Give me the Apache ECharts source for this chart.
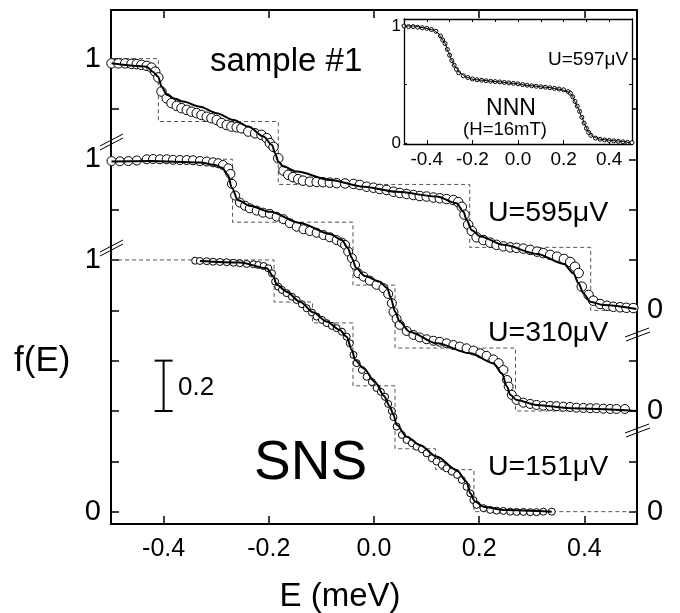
<!DOCTYPE html>
<html><head><meta charset="utf-8">
<script src="https://cdn.jsdelivr.net/npm/echarts@6/dist/echarts.min.js"></script>
<style>html,body{margin:0;padding:0;background:#fff}#c{width:680px;height:613px}</style>
</head><body><div id="c"></div>
<script>
// ---- data (E in meV, f(E) per curve) ----
const curveOffsets = {u595: 0.8, u310: 0.4, u151: 0};

const u595Points = [[-0.499,0.981],[-0.486,0.981],[-0.473,0.981],[-0.461,0.979],[-0.451,0.978],[-0.442,0.975],[-0.432,0.971],[-0.423,0.964],[-0.416,0.948],[-0.410,0.925],[-0.404,0.869],[-0.394,0.842],[-0.385,0.823],[-0.375,0.812],[-0.366,0.803],[-0.356,0.796],[-0.347,0.789],[-0.337,0.783],[-0.328,0.776],[-0.318,0.769],[-0.309,0.763],[-0.299,0.756],[-0.290,0.744],[-0.280,0.736],[-0.271,0.730],[-0.261,0.727],[-0.252,0.723],[-0.239,0.710],[-0.226,0.703],[-0.214,0.697],[-0.204,0.684],[-0.198,0.664],[-0.191,0.649],[-0.182,0.604],[-0.172,0.555],[-0.163,0.538],[-0.154,0.529],[-0.144,0.521],[-0.135,0.515],[-0.122,0.511],[-0.109,0.510],[-0.097,0.509],[-0.084,0.507],[-0.071,0.505],[-0.055,0.504],[-0.039,0.502],[-0.027,0.498],[-0.014,0.491],[-0.001,0.487],[0.011,0.482],[0.024,0.478],[0.037,0.471],[0.049,0.466],[0.062,0.462],[0.075,0.458],[0.087,0.454],[0.100,0.452],[0.113,0.448],[0.125,0.445],[0.138,0.442],[0.151,0.438],[0.160,0.430],[0.167,0.411],[0.172,0.380],[0.179,0.340],[0.186,0.315],[0.195,0.290],[0.208,0.279],[0.221,0.269],[0.233,0.260],[0.246,0.254],[0.259,0.250],[0.271,0.248],[0.284,0.245],[0.297,0.240],[0.310,0.233],[0.322,0.227],[0.335,0.220],[0.348,0.213],[0.361,0.204],[0.373,0.192],[0.382,0.173],[0.389,0.148],[0.395,0.094],[0.408,0.061],[0.417,0.038],[0.430,0.025],[0.443,0.018],[0.455,0.014],[0.468,0.012],[0.480,0.010],[0.493,0.009]];
const u595Fit = [[-0.499,0.981],[-0.432,0.968],[-0.420,0.947],[-0.410,0.927],[-0.404,0.889],[-0.394,0.856],[-0.378,0.840],[-0.363,0.829],[-0.331,0.809],[-0.299,0.783],[-0.267,0.756],[-0.239,0.730],[-0.210,0.690],[-0.194,0.657],[-0.188,0.624],[-0.182,0.591],[-0.172,0.571],[-0.147,0.551],[-0.084,0.518],[-0.020,0.491],[0.043,0.471],[0.119,0.452],[0.157,0.425],[0.170,0.392],[0.176,0.359],[0.186,0.318],[0.202,0.293],[0.246,0.260],[0.310,0.224],[0.361,0.184],[0.379,0.147],[0.389,0.107],[0.398,0.068],[0.411,0.034],[0.436,0.021],[0.499,0.005]];
const u595Steps = [[-0.5,1],[-0.41,1],[-0.41,0.75],[-0.182,0.75],[-0.182,0.5],[0.182,0.5],[0.182,0.25],[0.412,0.25],[0.412,0],[0.5,0]];

const u310Points = [[-0.499,0.993],[-0.483,0.992],[-0.467,0.993],[-0.451,0.995],[-0.432,1.000],[-0.420,1.001],[-0.407,1.000],[-0.394,1.000],[-0.382,0.998],[-0.369,0.997],[-0.356,0.997],[-0.344,0.996],[-0.331,0.993],[-0.318,0.991],[-0.306,0.988],[-0.296,0.984],[-0.287,0.977],[-0.277,0.964],[-0.273,0.942],[-0.270,0.902],[-0.264,0.856],[-0.255,0.828],[-0.245,0.815],[-0.236,0.805],[-0.223,0.796],[-0.211,0.788],[-0.198,0.783],[-0.185,0.772],[-0.172,0.762],[-0.160,0.746],[-0.147,0.732],[-0.134,0.722],[-0.122,0.715],[-0.109,0.708],[-0.096,0.699],[-0.084,0.690],[-0.071,0.679],[-0.061,0.669],[-0.055,0.660],[-0.049,0.633],[-0.042,0.607],[-0.036,0.580],[-0.030,0.547],[-0.020,0.534],[-0.008,0.518],[0.005,0.501],[0.018,0.488],[0.027,0.465],[0.034,0.428],[0.037,0.393],[0.043,0.366],[0.049,0.342],[0.062,0.318],[0.075,0.302],[0.087,0.292],[0.100,0.285],[0.113,0.279],[0.125,0.275],[0.138,0.269],[0.151,0.262],[0.163,0.256],[0.176,0.249],[0.189,0.240],[0.202,0.229],[0.214,0.219],[0.227,0.205],[0.237,0.190],[0.246,0.163],[0.253,0.123],[0.256,0.097],[0.262,0.064],[0.271,0.044],[0.284,0.033],[0.297,0.028],[0.309,0.024],[0.322,0.021],[0.335,0.020],[0.347,0.019],[0.360,0.017],[0.373,0.016],[0.385,0.013],[0.398,0.012],[0.411,0.011],[0.423,0.011],[0.436,0.009],[0.449,0.008],[0.461,0.008],[0.477,0.008]];
const u310Fit = [[-0.499,0.991],[-0.426,0.993],[-0.331,0.987],[-0.302,0.977],[-0.289,0.966],[-0.278,0.938],[-0.270,0.886],[-0.259,0.838],[-0.236,0.815],[-0.198,0.791],[-0.141,0.747],[-0.084,0.703],[-0.061,0.679],[-0.050,0.648],[-0.042,0.608],[-0.034,0.568],[-0.017,0.536],[0.011,0.513],[0.025,0.489],[0.032,0.449],[0.040,0.394],[0.049,0.354],[0.068,0.314],[0.119,0.269],[0.183,0.229],[0.227,0.190],[0.243,0.150],[0.253,0.097],[0.259,0.064],[0.271,0.044],[0.309,0.024],[0.373,0.011],[0.499,0.000]];
const u310Steps = [[-0.5,1],[-0.269,1],[-0.269,0.75],[-0.04,0.75],[-0.04,0.5],[0.04,0.5],[0.04,0.25],[0.269,0.25],[0.269,0],[0.5,0]];

const u151Points = [[-0.340,0.997],[-0.331,0.996],[-0.318,0.995],[-0.306,0.993],[-0.293,0.992],[-0.280,0.991],[-0.267,0.989],[-0.255,0.987],[-0.242,0.984],[-0.229,0.983],[-0.220,0.980],[-0.210,0.976],[-0.201,0.967],[-0.194,0.947],[-0.188,0.914],[-0.182,0.894],[-0.175,0.881],[-0.166,0.868],[-0.156,0.854],[-0.147,0.841],[-0.137,0.824],[-0.128,0.808],[-0.118,0.791],[-0.109,0.775],[-0.099,0.762],[-0.090,0.749],[-0.080,0.738],[-0.071,0.729],[-0.061,0.715],[-0.052,0.695],[-0.046,0.669],[-0.039,0.623],[-0.033,0.590],[-0.023,0.563],[-0.014,0.536],[-0.004,0.515],[0.005,0.491],[0.013,0.476],[0.021,0.456],[0.027,0.428],[0.034,0.400],[0.037,0.376],[0.043,0.338],[0.053,0.305],[0.062,0.285],[0.072,0.272],[0.081,0.258],[0.091,0.248],[0.100,0.232],[0.110,0.212],[0.119,0.199],[0.129,0.186],[0.138,0.172],[0.148,0.159],[0.158,0.146],[0.167,0.126],[0.176,0.099],[0.183,0.073],[0.189,0.046],[0.195,0.027],[0.208,0.014],[0.221,0.007],[0.233,0.004],[0.246,0.003],[0.259,0.000],[0.271,-0.001],[0.284,-0.001],[0.297,-0.002],[0.309,-0.002],[0.322,0.000],[0.338,0.000]];
const u151Fit = [[-0.331,0.996],[-0.255,0.990],[-0.204,0.967],[-0.191,0.934],[-0.185,0.901],[-0.166,0.874],[-0.141,0.834],[-0.115,0.791],[-0.090,0.755],[-0.065,0.722],[-0.052,0.695],[-0.042,0.642],[-0.036,0.603],[-0.020,0.570],[0.002,0.515],[0.019,0.460],[0.030,0.418],[0.037,0.385],[0.043,0.345],[0.062,0.298],[0.087,0.265],[0.119,0.219],[0.157,0.166],[0.176,0.119],[0.183,0.073],[0.192,0.040],[0.208,0.020],[0.246,0.007],[0.338,0.000]];
const u151Steps = [[-0.5,1],[-0.19,1],[-0.19,0.833],[-0.117,0.833],[-0.117,0.75],[-0.04,0.75],[-0.04,0.5],[0.04,0.5],[0.04,0.25],[0.117,0.25],[0.117,0.167],[0.19,0.167],[0.19,0],[0.5,0]];

const nnnPoints = [[-0.50,1.00],[-0.48,0.995],[-0.46,0.995],[-0.44,0.99],[-0.42,0.985],[-0.40,0.98],[-0.38,0.97],[-0.36,0.955],[-0.34,0.915],[-0.33,0.88],[-0.32,0.85],[-0.31,0.80],[-0.30,0.75],[-0.29,0.705],[-0.28,0.665],[-0.27,0.63],[-0.26,0.60],[-0.24,0.575],[-0.22,0.56],[-0.20,0.548],[-0.18,0.541],[-0.16,0.537],[-0.14,0.532],[-0.12,0.528],[-0.10,0.525],[-0.08,0.522],[-0.06,0.518],[-0.04,0.514],[-0.02,0.510],[0.00,0.506],[0.02,0.500],[0.04,0.494],[0.06,0.489],[0.08,0.485],[0.10,0.481],[0.12,0.477],[0.14,0.472],[0.16,0.467],[0.18,0.461],[0.20,0.455],[0.22,0.44],[0.23,0.425],[0.24,0.395],[0.25,0.355],[0.26,0.315],[0.27,0.27],[0.28,0.22],[0.29,0.17],[0.30,0.125],[0.31,0.09],[0.32,0.065],[0.34,0.042],[0.36,0.032],[0.38,0.026],[0.40,0.022],[0.42,0.019],[0.44,0.015],[0.46,0.01],[0.48,0.006],[0.50,0.003]];
const nnnFit = [[-0.5,1.0],[-0.459,1.0],[-0.415,0.985],[-0.371,0.966],[-0.350,0.938],[-0.335,0.895],[-0.320,0.852],[-0.306,0.780],[-0.291,0.709],[-0.276,0.652],[-0.254,0.598],[-0.225,0.562],[-0.196,0.544],[-0.167,0.538],[-0.093,0.524],[-0.021,0.510],[0.053,0.490],[0.126,0.476],[0.184,0.459],[0.221,0.438],[0.236,0.410],[0.250,0.353],[0.264,0.297],[0.279,0.225],[0.294,0.154],[0.308,0.097],[0.330,0.054],[0.360,0.032],[0.418,0.020],[0.491,0.003]];

const scaleBar = [-0.4, 0.4, 0.6];           // E, lower, upper (span 0.2)
const mainXTicks = [-0.4, -0.2, 0, 0.2, 0.4];
const mainYTicks = [0, 0.2, 0.4, 0.6, 0.8, 1.0, 1.2, 1.4, 1.6, 1.8];
const leftYLabels = [0, 1.0, 1.4, 1.8];       // shown as 0,1,1,1
const rightYLabels = [0, 0.4, 0.8];           // shown as 0
const insetXTicks = [-0.4, -0.2, 0, 0.2, 0.4];
const insetTopTicks = [-0.4, -0.3, -0.2, -0.1, 0, 0.1, 0.2, 0.3, 0.4];
const insetYLabels = [0, 1];

// ---- chart ----
const FONT = 'Liberation Sans, Arial, Helvetica, sans-serif';
const shift = (arr, off) => arr.map(p => [p[0], p[1] + off]);
const chart = echarts.init(document.getElementById('c'), null, {renderer: 'canvas'});

const axisBase = (extra) => Object.assign({
  type: 'value', splitLine: {show: false},
  axisLine: {show: true, onZero: false, lineStyle: {color: '#000', width: 2}},
}, extra);

function curveSeries(points, fit, steps, off, size) {
  return [
    {type: 'line', data: shift(steps, off), symbol: 'none', silent: true, z: 1,
     lineStyle: {color: '#555', width: 1, type: [4, 3]}},
    {type: 'scatter', data: shift(points, off), symbol: 'circle', symbolSize: size, silent: true, z: 2,
     itemStyle: {color: '#fff', borderColor: '#000', borderWidth: 1, opacity: 1}},
    {type: 'line', data: shift(fit, off), symbol: 'none', smooth: 0.3, smoothMonotone: 'x', silent: true, z: 3,
     lineStyle: {color: '#000', width: 2}}
  ];
}

const series = [].concat(
  curveSeries(u595Points, u595Fit, u595Steps, curveOffsets.u595, 9.5),
  curveSeries(u310Points, u310Fit, u310Steps, curveOffsets.u310, 9),
  curveSeries(u151Points, u151Fit, u151Steps, curveOffsets.u151, 7),
  [
    {type: 'custom', xAxisIndex: 0, yAxisIndex: 0, data: [scaleBar], silent: true, z: 4,
     encode: {x: 0, y: [1, 2]},
     renderItem: function (params, api) {
       const a = api.coord([api.value(0), api.value(1)]);
       const b = api.coord([api.value(0), api.value(2)]);
       const st = {stroke: '#000', lineWidth: 2};
       return {type: 'group', children: [
         {type: 'line', shape: {x1: a[0], y1: a[1], x2: b[0], y2: b[1]}, style: st},
         {type: 'line', shape: {x1: a[0] - 9, y1: a[1], x2: a[0] + 9, y2: a[1]}, style: st},
         {type: 'line', shape: {x1: b[0] - 9, y1: b[1], x2: b[0] + 9, y2: b[1]}, style: st}
       ]};
     }},
    {type: 'scatter', xAxisIndex: 2, yAxisIndex: 2, data: nnnPoints, symbol: 'circle', symbolSize: 4, silent: true, z: 6,
     itemStyle: {color: '#fff', borderColor: '#000', borderWidth: 1, opacity: 1}},
    {type: 'line', xAxisIndex: 2, yAxisIndex: 2, data: nnnFit, symbol: 'none', smooth: 0.3, smoothMonotone: 'x', silent: true, z: 7,
     lineStyle: {color: '#000', width: 1}}
  ]
);

const option = {
  animation: false,
  backgroundColor: '#fff',
  textStyle: {fontFamily: FONT, color: '#000'},
  grid: [
    {left: 111, top: 10, width: 526, height: 514, show: false},
    {left: 404, top: 19, width: 228, height: 125, show: true, backgroundColor: '#fff', borderWidth: 0, z: 5}
  ],
  xAxis: [
    axisBase({gridIndex: 0, position: 'bottom', min: -0.5, max: 0.5,
      axisTick: {show: true, inside: true, length: 8, lineStyle: {color: '#000', width: 1.5}, customValues: mainXTicks},
      axisLabel: {show: true, customValues: mainXTicks, fontSize: 25, margin: 13, color: '#000', fontFamily: FONT,
        formatter: v => (Math.abs(v) < 1e-9 ? '0.0' : Number(v).toFixed(1))}}),
    axisBase({gridIndex: 0, position: 'top', min: -0.5, max: 0.5,
      axisTick: {show: true, inside: true, length: 8, lineStyle: {color: '#000', width: 1.5}, customValues: mainXTicks},
      axisLabel: {show: false}}),
    axisBase({gridIndex: 1, position: 'bottom', min: -0.5, max: 0.5, z: 6,
      axisLine: {show: true, onZero: false, lineStyle: {color: '#000', width: 1.3}},
      axisTick: {show: true, inside: true, length: 4, lineStyle: {color: '#000', width: 1}, customValues: insetXTicks},
      axisLabel: {show: true, customValues: insetXTicks, fontSize: 19, margin: 6, color: '#000', fontFamily: FONT,
        formatter: v => (Math.abs(v) < 1e-9 ? '0.0' : Number(v).toFixed(1))}}),
    axisBase({gridIndex: 1, position: 'top', min: -0.5, max: 0.5, z: 6,
      axisLine: {show: true, onZero: false, lineStyle: {color: '#000', width: 1.3}},
      axisTick: {show: true, inside: true, length: 3, lineStyle: {color: '#000', width: 1}, customValues: insetTopTicks},
      axisLabel: {show: false}})
  ],
  yAxis: [
    axisBase({gridIndex: 0, position: 'left', min: -0.049, max: 1.993,
      axisTick: {show: true, inside: true, length: 8, lineStyle: {color: '#000', width: 1.5}, customValues: mainYTicks},
      axisLabel: {show: true, customValues: leftYLabels, fontSize: 29, margin: 10, color: '#000', fontFamily: FONT,
        formatter: v => (v < 0.5 ? '0' : '1')}}),
    axisBase({gridIndex: 0, position: 'right', min: -0.049, max: 1.993,
      axisTick: {show: true, inside: true, length: 8, lineStyle: {color: '#000', width: 1.5}, customValues: mainYTicks},
      axisLabel: {show: true, customValues: rightYLabels, fontSize: 29, margin: 10, color: '#000', fontFamily: FONT,
        formatter: () => '0'}}),
    axisBase({gridIndex: 1, position: 'left', min: -0.0085, max: 1.06, z: 6,
      axisLine: {show: true, onZero: false, lineStyle: {color: '#000', width: 1.3}},
      axisTick: {show: true, inside: true, length: 3, lineStyle: {color: '#000', width: 1}, customValues: [0, 0.5, 1]},
      axisLabel: {show: true, customValues: insetYLabels, fontSize: 17, margin: 3, color: '#000', fontFamily: FONT,
        formatter: v => String(Math.round(v))}}),
    axisBase({gridIndex: 1, position: 'right', min: -0.0085, max: 1.06, z: 6,
      axisLine: {show: true, onZero: false, lineStyle: {color: '#000', width: 1.3}},
      axisTick: {show: true, inside: true, length: 3, lineStyle: {color: '#000', width: 1}, customValues: [0.5]},
      axisLabel: {show: false}})
  ],
  series: series,
  graphic: [
    {type: 'text', x: 210, y: 62, style: {text: 'sample #1', font: '33px ' + FONT, fill: '#000', textVerticalAlign: 'middle'}},
    {type: 'text', x: 488, y: 213, style: {text: 'U=595μV', font: '28.5px ' + FONT, fill: '#000', textVerticalAlign: 'middle'}},
    {type: 'text', x: 488, y: 333, style: {text: 'U=310μV', font: '28.5px ' + FONT, fill: '#000', textVerticalAlign: 'middle'}},
    {type: 'text', x: 488, y: 467, style: {text: 'U=151μV', font: '28.5px ' + FONT, fill: '#000', textVerticalAlign: 'middle'}},
    {type: 'text', x: 254, y: 464, style: {text: 'SNS', font: '55px ' + FONT, fill: '#000', textVerticalAlign: 'middle'}},
    {type: 'text', x: 178, y: 388, style: {text: '0.2', font: '26px ' + FONT, fill: '#000', textVerticalAlign: 'middle'}},
    {type: 'text', x: 14, y: 361, style: {text: 'f(E)', font: '35px ' + FONT, fill: '#000', textVerticalAlign: 'middle'}},
    {type: 'text', x: 340, y: 597, style: {text: 'E (meV)', font: '33px ' + FONT, fill: '#000', textAlign: 'center', textVerticalAlign: 'middle'}},
    {type: 'text', x: 548, y: 60, z: 10, style: {text: 'U=597μV', font: '19px ' + FONT, fill: '#000', textVerticalAlign: 'middle'}},
    {type: 'text', x: 511, y: 109, z: 10, style: {text: 'NNN', font: '23px ' + FONT, fill: '#000', textAlign: 'center', textVerticalAlign: 'middle'}},
    {type: 'text', x: 505, y: 130, z: 10, style: {text: '(H=16mT)', font: '18.5px ' + FONT, fill: '#000', textAlign: 'center', textVerticalAlign: 'middle'}},
    // axis break marks
    {type: 'line', shape: {x1: 100, y1: 146, x2: 123, y2: 134}, style: {stroke: '#000', lineWidth: 1}},
    {type: 'line', shape: {x1: 100, y1: 150, x2: 123, y2: 138}, style: {stroke: '#000', lineWidth: 1}},
    {type: 'line', shape: {x1: 100, y1: 252, x2: 123, y2: 240}, style: {stroke: '#000', lineWidth: 1}},
    {type: 'line', shape: {x1: 100, y1: 256, x2: 123, y2: 244}, style: {stroke: '#000', lineWidth: 1}},
    {type: 'line', shape: {x1: 625, y1: 337, x2: 649, y2: 328}, style: {stroke: '#000', lineWidth: 1}},
    {type: 'line', shape: {x1: 626, y1: 341, x2: 650, y2: 332}, style: {stroke: '#000', lineWidth: 1}},
    {type: 'line', shape: {x1: 625, y1: 433, x2: 649, y2: 424}, style: {stroke: '#000', lineWidth: 1}},
    {type: 'line', shape: {x1: 626, y1: 437, x2: 650, y2: 428}, style: {stroke: '#000', lineWidth: 1}}
  ]
};
chart.setOption(option);
</script>
</body></html>
